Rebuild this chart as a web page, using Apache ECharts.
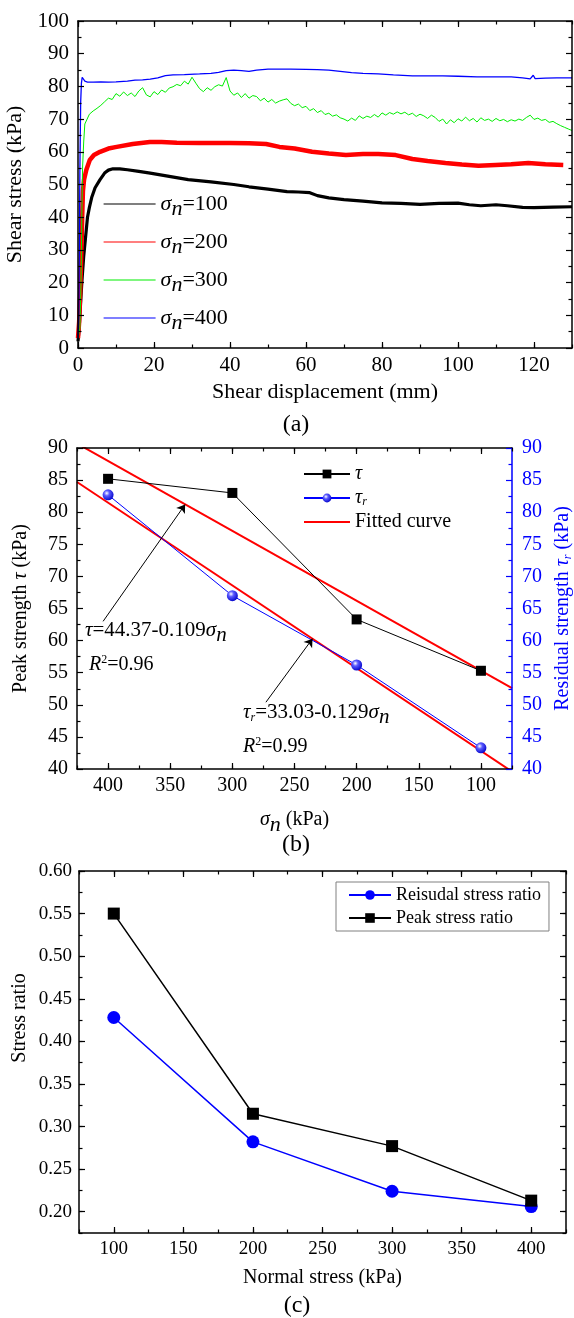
<!DOCTYPE html>
<html>
<head>
<meta charset="utf-8">
<script src="https://cdn.jsdelivr.net/npm/echarts@6/dist/echarts.min.js"></script>
<style>
html, body { margin: 0; padding: 0; background: #fff; }
#main { width: 574px; height: 1318px; }
</style>
</head>
<body>
<div id="main"></div>
<script>
var FONT = '"Liberation Serif", "Times New Roman", serif';

// (a) shear stress (kPa) against shear displacement (mm)
var curve100 = [[0,2],[0.3,6],[0.6,12],[1,20],[1.5,28],[2,34],[2.5,40],[3,43],[3.6,46],[4.5,49],[5.8,51.5],[7,53.5],[8,54.4],[9.2,54.8],[11,54.8],[13,54.5],[16,54],[19,53.5],[24,52.5],[29,51.5],[35,50.8],[41,50],[45,49.3],[50,48.6],[55,47.8],[58,47.7],[61,47.5],[63,46.6],[66,45.9],[70,45.4],[75,44.9],[80,44.4],[85,44.2],[90,43.9],[95,44.2],[100,44.3],[103,43.8],[106,43.5],[110,43.8],[113,43.5],[117,43.0],[120,42.9],[125,43.1],[130,43.2]];
var curve200 = [[0,3],[0.3,8],[0.6,18],[0.9,30],[1.1,40],[1.3,48],[1.6,51.5],[2.2,54.5],[3.1,57.5],[4.2,59],[5.8,60],[8,61],[10.2,61.5],[14.4,62.4],[18.9,63],[22,63],[26,62.8],[32,62.7],[40,62.7],[45,62.6],[49.5,62.4],[53,61.5],[57,61],[61.6,60],[66,59.5],[70.5,59],[75,59.3],[79,59.3],[83.6,59],[88,57.8],[92,57.2],[96.7,56.6],[101,56.1],[105.4,55.7],[109.9,56],[114,56.2],[118.5,56.6],[123,56.2],[127.7,56]];
var curve300 = [[0,3],[0.5,6],[0.8,20],[1.0,40],[1.2,55],[1.5,63],[1.8,68.5],[2.4,70],[3,71.5],[4,72.5],[5,73.3],[6,74.2],[7,75.3],[8,76.4],[9,76.0],[10,77.8],[11,77.0],[12,78.3],[13,77.2],[14,78.0],[15,76.9],[16,78.6],[17,79.6],[18,77.4],[19,76.8],[20,78.4],[21,77.5],[22,78.9],[23,78.2],[24,79.5],[25,79.9],[26,80.6],[27,80.2],[28,81.6],[29,80.7],[30,82.8],[31,81.0],[32,79.3],[33,78.4],[34,79.6],[35,78.8],[36,79.9],[37,80.5],[38,80.1],[39,82.7],[40,78.6],[41,77.3],[42,78.0],[43,76.6],[44,77.8],[45,76.4],[46,77.2],[47,76.9],[48,75.6],[49,76.4],[50,75.2],[51,76.0],[52,74.9],[53,75.5],[54,75.9],[55,76.2],[56,74.8],[57,74.1],[58,74.6],[59,73.5],[60,73.9],[61,72.6],[62,73.2],[63,72.0],[64,72.6],[65,71.4],[66,71.8],[67,70.9],[68,71.3],[69,70.4],[70,70.0],[71,69.4],[72,70.3],[73,69.6],[74,71.0],[75,70.2],[76,70.9],[77,70.5],[78,71.4],[79,70.6],[80,71.9],[81,71.2],[82,72.0],[83,71.5],[84,72.2],[85,71.6],[86,72.1],[87,71.3],[88,71.8],[89,70.8],[90,71.5],[91,71.0],[92,70.2],[93,71.2],[94,70.5],[95,69.3],[96,70.0],[97,68.5],[98,69.8],[99,68.9],[100,70.1],[101,69.4],[102,70.6],[103,69.5],[104,70.2],[105,69.1],[106,70.4],[107,69.6],[108,70.0],[109,69.3],[110,70.2],[111,69.5],[112,69.9],[113,69.2],[114,69.8],[115,69.4],[116,70.0],[117,69.6],[118,70.5],[119,71.2],[120,69.9],[121,70.3],[122,69.6],[123,69.9],[124,69.0],[125,69.3],[126,68.6],[127,68.0],[128,67.5],[129,67.0],[130,66.5]];
var curve400 = [[0,3],[0.2,10],[0.35,30],[0.5,55],[0.7,75],[0.9,81],[1.1,82.8],[1.4,82.4],[1.8,81.6],[2.5,81.3],[4,81.3],[6,81.4],[8,81.3],[10,81.4],[13,81.6],[15,81.9],[17,82.0],[19,82.2],[21,82.6],[23,83.3],[25,83.5],[28,83.6],[32,83.8],[35,84.0],[37,84.3],[39,84.8],[41,85.0],[43,84.8],[45,84.6],[47,85.0],[50,85.3],[53,85.3],[56,85.3],[60,85.2],[63,85.1],[66,85.0],[69,84.6],[72,84.2],[75,84.0],[79,83.8],[83,83.5],[88,83.2],[92,83.2],[96,83.2],[100,83.1],[105,82.9],[110,82.9],[114,82.9],[117,82.6],[119,82.3],[119.8,83.4],[120.3,82.4],[123,82.5],[126,82.6],[130,82.6]];
var curveNames = ['σn=100', 'σn=200', 'σn=300', 'σn=400'];
var dispTicks = [0, 20, 40, 60, 80, 100, 120];

// (b) peak / residual strength (kPa) against normal stress (kPa)
var sigmaN = [400, 300, 200, 100];
var peakTau = [85.2, 83.0, 63.3, 55.3];
var residualTau = [82.7, 67.0, 56.2, 43.3];
var fitSigma = [75, 425];
var fitPeak = [52.6, 90.7];
var fitResidual = [39.6, 84.7];
var arrowPeak = [[404, 63.0], [338, 81.2]];
var arrowResidual = [[273, 50.4], [235.5, 60.3]];
var sigmaTicks = [100, 150, 200, 250, 300, 350, 400];

// (c) stress ratio against normal stress (kPa)
var normalStress = [100, 200, 300, 400];
var residualRatio = [0.428, 0.282, 0.224, 0.206];
var peakRatio = [0.550, 0.315, 0.277, 0.213];
var ratioTicks = [0.20, 0.25, 0.30, 0.35, 0.40, 0.45, 0.50, 0.55, 0.60];

function pairs(xs, ys) {
    return xs.map(function (x, i) { return [x, ys[i]]; });
}

var subN = { fontFamily: FONT, fontStyle: 'italic', fontSize: 22, padding: [10, 0, 0, 0] };
var greek = { fontFamily: FONT, fontStyle: 'italic' };

// one value axis; o switches labels, minor ticks, custom major ticks, name
function axis(grid, pos, range, interval, o) {
    o = o || {};
    var c = o.color || '#000';
    var a = {
        type: 'value', gridIndex: grid, position: pos,
        min: range[0], max: range[1], interval: interval,
        inverse: !!o.inverse,
        axisLine: { show: o.line !== false, onZero: false, lineStyle: { color: c, width: 1.5 } },
        axisTick: { show: true, inside: true, length: o.tickLen || 6, lineStyle: { color: c, width: 1.2 } },
        minorTick: { show: !!o.minor, splitNumber: 2, length: 3.5, lineStyle: { color: c, width: 1.2 } },
        axisLabel: { show: !!o.labels, margin: o.margin || 7, color: c, fontFamily: FONT, fontSize: o.fontSize || 20 },
        splitLine: { show: false },
        z: 5
    };
    if (o.formatter) a.axisLabel.formatter = o.formatter;
    if (o.majors) a.axisTick.customValues = o.majors;
    if (o.name) {
        a.name = o.name;
        a.nameLocation = 'middle';
        a.nameGap = o.nameGap;
        a.nameTextStyle = { fontFamily: FONT, fontSize: o.nameSize || 20, color: c, rich: o.rich || {} };
    }
    return a;
}

function every(step) {
    return function (v) {
        var k = v / step;
        return Math.abs(k - Math.round(k)) < 1e-6 ? String(v) : '';
    };
}

var xAxes = [
    // (a)
    axis(0, 'bottom', [0, 130], 10, { labels: true, fontSize: 21, tickLen: 3.5, formatter: every(20),
        name: 'Shear displacement (mm)', nameGap: 33, nameSize: 22 }),
    axis(0, 'bottom', [0, 130], 10, { line: false, majors: dispTicks }),
    axis(0, 'top', [0, 130], 10, { tickLen: 3.5 }),
    axis(0, 'top', [0, 130], 10, { line: false, majors: dispTicks }),
    // (b)
    axis(1, 'bottom', [75, 425], 25, { inverse: true, labels: true, tickLen: 3.5, formatter: every(50),
        name: '{s|σ}{n|n} (kPa)', nameGap: 35, rich: { s: greek, n: subN } }),
    axis(1, 'bottom', [75, 425], 25, { inverse: true, line: false, majors: sigmaTicks }),
    axis(1, 'top', [75, 425], 25, { inverse: true, tickLen: 3.5 }),
    axis(1, 'top', [75, 425], 25, { inverse: true, line: false, majors: sigmaTicks }),
    // (c)
    axis(2, 'bottom', [75, 425], 25, { labels: true, fontSize: 19, tickLen: 3.5, formatter: every(50),
        name: 'Normal stress (kPa)', nameGap: 35, nameSize: 20 }),
    axis(2, 'bottom', [75, 425], 25, { line: false, majors: sigmaTicks }),
    axis(2, 'top', [75, 425], 25, { tickLen: 3.5 }),
    axis(2, 'top', [75, 425], 25, { line: false, majors: sigmaTicks })
];

var ratioLabel = function (v) {
    var k = v * 20;
    return Math.abs(k - Math.round(k)) < 1e-6 ? v.toFixed(2) : '';
};

var yAxes = [
    // (a)
    axis(0, 'left', [0, 100], 10, { labels: true, minor: true, fontSize: 21, margin: 9,
        name: 'Shear stress (kPa)', nameGap: 47, nameSize: 22 }),
    axis(0, 'right', [0, 100], 10, { minor: true }),
    // (b)
    axis(1, 'left', [40, 90], 5, { labels: true, minor: true, margin: 9,
        name: 'Peak strength {t|τ} (kPa)', nameGap: 46, rich: { t: greek } }),
    axis(1, 'right', [40, 90], 5, { labels: true, minor: true, margin: 10, color: '#0000ff',
        name: 'Residual strength {t|τ}{r|r} (kPa)', nameGap: 38,
        rich: { t: { fontFamily: FONT, fontStyle: 'italic', fontSize: 20, color: '#0000ff' },
                r: { fontFamily: FONT, fontStyle: 'italic', fontSize: 12, color: '#0000ff', padding: [10, 0, 0, 0] } } }),
    // (c)
    axis(2, 'left', [0.175, 0.6], 0.025, { labels: true, fontSize: 19, tickLen: 3.5, formatter: ratioLabel }),
    axis(2, 'left', [0.175, 0.6], 0.025, { line: false, majors: ratioTicks }),
    axis(2, 'right', [0.175, 0.6], 0.025, { tickLen: 3.5 }),
    axis(2, 'right', [0.175, 0.6], 0.025, { line: false, majors: ratioTicks })
];

var sphere = {
    type: 'radial', x: 0.38, y: 0.35, r: 0.7,
    colorStops: [
        { offset: 0, color: '#ffffff' },
        { offset: 0.35, color: '#5a5aff' },
        { offset: 1, color: '#0000c8' }
    ]
};

function curve(name, data, color, width) {
    return {
        name: name, type: 'line', xAxisIndex: 0, yAxisIndex: 0,
        data: data, symbol: 'none', showSymbol: false,
        lineStyle: { color: color, width: width }, itemStyle: { color: color },
        animation: false, silent: true
    };
}

function arrow(p) {
    return {
        silent: true, symbol: ['none', 'arrow'], symbolSize: 8,
        lineStyle: { color: '#000', width: 1, type: 'solid' },
        label: { show: false },
        data: [[{ coord: p[0] }, { coord: p[1] }]]
    };
}

var series = [
    curve(curveNames[0], curve100, '#000000', 3.2),
    curve(curveNames[1], curve200, '#ff0000', 4.5),
    curve(curveNames[2], curve300, '#00ee00', 1),
    curve(curveNames[3], curve400, '#0000ff', 1.3),
    {
        name: 'Fitted curve', type: 'line', xAxisIndex: 4, yAxisIndex: 2,
        data: pairs(fitSigma, fitPeak), symbol: 'none', clip: true,
        lineStyle: { color: '#ff0000', width: 2 }, itemStyle: { color: '#ff0000' },
        markLine: arrow(arrowPeak), animation: false
    },
    {
        name: 'Fitted curve', type: 'line', xAxisIndex: 4, yAxisIndex: 2,
        data: pairs(fitSigma, fitResidual), symbol: 'none', clip: true,
        lineStyle: { color: '#ff0000', width: 2 }, itemStyle: { color: '#ff0000' },
        markLine: arrow(arrowResidual), animation: false
    },
    {
        name: 'τ', type: 'line', xAxisIndex: 4, yAxisIndex: 2,
        data: pairs(sigmaN, peakTau), symbol: 'rect', symbolSize: 10,
        lineStyle: { color: '#000', width: 1 }, itemStyle: { color: '#000' }, animation: false
    },
    {
        name: 'τr', type: 'line', xAxisIndex: 4, yAxisIndex: 2,
        data: pairs(sigmaN, residualTau), symbol: 'circle', symbolSize: 11,
        lineStyle: { color: '#0000ff', width: 1 }, itemStyle: { color: sphere }, animation: false
    },
    {
        name: 'Reisudal stress ratio', type: 'line', xAxisIndex: 8, yAxisIndex: 4,
        data: pairs(normalStress, residualRatio), symbol: 'circle', symbolSize: 13,
        lineStyle: { color: '#0000ff', width: 1.5 }, itemStyle: { color: '#0000ff' }, animation: false
    },
    {
        name: 'Peak stress ratio', type: 'line', xAxisIndex: 8, yAxisIndex: 4,
        data: pairs(normalStress, peakRatio), symbol: 'rect', symbolSize: 12,
        lineStyle: { color: '#000', width: 1.5 }, itemStyle: { color: '#000' }, animation: false
    }
];

function txt(x, y, text, size, o) {
    o = o || {};
    return {
        type: 'text', x: x, y: y, rotation: o.rotation || 0, z: 100,
        style: {
            text: text, fill: '#000', fontFamily: FONT, fontSize: size,
            align: o.align || 'left', verticalAlign: 'middle',
            textAlign: o.align || 'left', textVerticalAlign: 'middle',
            rich: o.rich || {}
        }
    };
}

var eqRich = {
    t: { fontFamily: FONT, fontStyle: 'italic', fontSize: 21 },
    s: { fontFamily: FONT, fontStyle: 'italic', fontSize: 21 },
    n: { fontFamily: FONT, fontStyle: 'italic', fontSize: 21, padding: [10, 0, 0, 0] },
    r: { fontFamily: FONT, fontStyle: 'italic', fontSize: 12, padding: [12, 0, 0, 0] },
    R: { fontFamily: FONT, fontStyle: 'italic', fontSize: 20 },
    p: { fontFamily: FONT, fontSize: 12, padding: [0, 0, 10, 0] }
};

var legendRich = {
    t: { fontFamily: FONT, fontStyle: 'italic', fontSize: 20 },
    r: { fontFamily: FONT, fontStyle: 'italic', fontSize: 12, padding: [8, 0, 0, 0] }
};

// legend entries drawn as a plain line, without the round marker
var noMarker = { opacity: 0 };

var myChart = echarts.init(document.getElementById('main'), null, { renderer: 'canvas' });

var option = {
    backgroundColor: '#fff',
    animation: false,
    grid: [
        { left: 78, top: 21, width: 494, height: 327, outerBoundsMode: 'none' },
        { left: 77, top: 448, width: 435, height: 321, outerBoundsMode: 'none' },
        { left: 79, top: 871, width: 487, height: 362, outerBoundsMode: 'none' }
    ],
    xAxis: xAxes,
    yAxis: yAxes,
    legend: [
        {
            data: curveNames.map(function (n) { return { name: n, itemStyle: noMarker }; }),
            left: 98, top: 188, orient: 'vertical',
            itemWidth: 52, itemHeight: 12, itemGap: 11,
            lineStyle: { width: 1.2 },
            formatter: function (name) { return '{s|σ}{n|n}' + name.slice(2); },
            textStyle: { fontFamily: FONT, fontSize: 22, color: '#000',
                rich: { s: { fontFamily: FONT, fontStyle: 'italic', fontSize: 22 }, n: subN } },
            selectedMode: false
        },
        {
            data: ['τ', 'τr', { name: 'Fitted curve', itemStyle: noMarker }],
            left: 298, top: 459, orient: 'vertical',
            itemWidth: 46, itemHeight: 11, itemGap: 4,
            formatter: function (name) {
                if (name === 'τ') return '{t|τ}';
                if (name === 'τr') return '{t|τ}{r|r}';
                return name;
            },
            textStyle: { fontFamily: FONT, fontSize: 20, color: '#000', rich: legendRich },
            selectedMode: false
        },
        {
            data: ['Reisudal stress ratio', 'Peak stress ratio'], left: 336, top: 882, orient: 'vertical',
            itemWidth: 42, itemHeight: 12, itemGap: 5,
            borderColor: '#808080', borderWidth: 1, padding: [4, 8, 4, 12],
            textStyle: { fontFamily: FONT, fontSize: 18, color: '#000' },
            selectedMode: false
        }
    ],
    graphic: [
        txt(296, 425, '(a)', 24, { align: 'center' }),
        txt(296, 845, '(b)', 24, { align: 'center' }),
        txt(297, 1306, '(c)', 24, { align: 'center' }),
        txt(85, 630, '{t|τ}=44.37-0.109{s|σ}{n|n}', 21, { rich: eqRich }),
        txt(89, 665, '{R|R}{p|2}=0.96', 20, { rich: eqRich }),
        txt(243, 712, '{t|τ}{r|r}=33.03-0.129{s|σ}{n|n}', 21, { rich: eqRich }),
        txt(243, 747, '{R|R}{p|2}=0.99', 20, { rich: eqRich }),
        txt(20, 1018, 'Stress ratio', 20, { align: 'center', rotation: Math.PI / 2 })
    ],
    series: series
};

myChart.setOption(option);
</script>
</body>
</html>
